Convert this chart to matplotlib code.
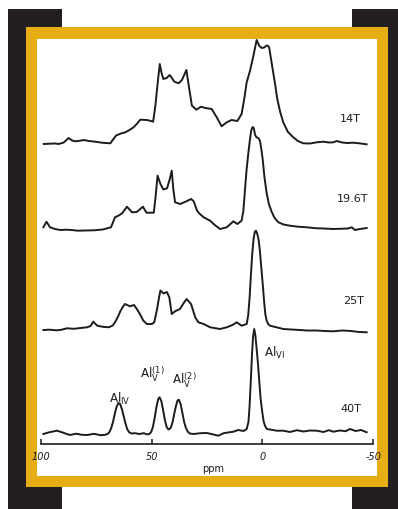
import matplotlib
matplotlib.use("Agg")
import matplotlib.pyplot as plt
from matplotlib.patches import Rectangle

# --- 27Al MAS NMR spectra at four field strengths (ppm, intensity) ---
ppm_14 = [98.6, 96, 93.5, 91.9, 89.6, 87.4, 85.8, 84.4, 82.5, 80.6, 78.3, 75.4, 72.0, 68.6,
          66.0, 63.8, 61.8, 60.0, 58.1, 56.5, 55.1, 52.1, 50.3, 49.3, 48.3, 47.2, 46.3, 45.5,
          44.7, 43.2, 41.8, 39.7, 37.8, 36.3, 34.3, 33.0, 31.8, 29.8, 27.7, 25.8, 22.9, 20.6,
          18.4, 16.1, 13.9, 11.3, 9.4, 8.2, 7.1, 5.6, 4.1, 2.6, 1.4, 0.3, -0.8, -1.9, -2.6,
          -3.1, -3.8, -4.6, -5.7, -6.7, -8.0, -9.4, -11.5, -13.9, -16.0, -18.4, -21.5,
          -24.5, -27.5, -30, -32.0, -33.5, -36, -38.0, -41, -44, -47.0]
int_14 = [0, 0.3, 0.5, 0, 1.5, 6, 3.5, 2.7, 3.2, 4, 3.0, 2.3, 1.2, 0.7,
          8.5, 10.5, 11.7, 14, 16.7, 20.5, 24.3, 24, 23, 22.3, 38, 62, 80, 71,
          65, 66, 69, 62.3, 60.7, 64, 74, 55, 38.3, 34.3, 37.3, 36, 35, 26.7,
          17.7, 21.7, 24, 23, 30, 45, 61.7, 73.3, 88, 104, 98, 96, 96.5, 98.5, 98,
          96, 86, 75, 60, 45, 32, 21.7, 12, 6.7, 3, 0.7, 0.5,
          1.7, 2.3, 1.5, 1.7, 3, 1.5, 1, 1.3, 0.6, -0.3]

ppm_196 = [98.8, 97.4, 95.8, 93.5, 91.2, 88.3, 85, 83.6, 80, 76, 72, 68.3, 66.5, 64.8, 63.3,
           61.1, 58.8, 56.7, 53.9, 52.3, 49.0, 48.2, 47.3, 46.0, 44.7, 43.0, 41.8, 40.9, 40.2,
           39.4, 37.1, 34.3, 32.2, 31.0, 29.5, 28.2, 26.5, 23.6, 21.5, 19.1, 16.1, 13.1, 11.3,
           9.4, 8.6, 7.9, 7.2, 6.4, 5.6, 5.0, 4.4, 3.9, 3.3, 2.6, 1.8, 1.1, 0.5, -0.1, -0.9,
           -1.9, -2.9, -4.2, -5.5, -7.2, -9.5, -12.4, -16, -20.0, -24, -27.5, -32.0,
           -36, -38.5, -40.3, -41.7, -44, -47.0]
int_196 = [1.7, 7.3, 1.7, 0, -1, -0.7, -1.2, -1.7, -1.5, -1.3, -0.5, 1.7, 11.7, 13.5, 15.7,
           22.3, 16.7, 17, 22.3, 16.3, 16.3, 32, 53.3, 45, 39.5, 40.7, 50, 58.3, 40,
           26.7, 25, 27.7, 30, 27.7, 18.3, 15, 11.7, 8.3, 4, 0, 1.7, 7.7, 5,
           8.3, 18, 38.3, 58, 75, 90, 99, 102, 101, 94, 91.5, 91, 88, 80, 70, 52,
           36, 25, 17, 11, 6.7, 4.5, 3.3, 2.3, 1.7, 0.8, 0.5, 0,
           0.3, 0.5, 1.7, -1, 0, 1]

ppm_25 = [98.8, 96, 93, 91.2, 88.1, 85, 82, 79.1, 77.5, 76.3, 74.5, 72, 69.3, 67.5, 66.5,
          65.2, 64.1, 63.0, 62.0, 59.7, 57.9, 56.5, 55.1, 53.7, 52.1, 49.9, 48.8, 47.5, 46.6,
          46.0, 44.6, 43.1, 42.0, 40.9, 39.4, 37.2, 35.5, 34.2, 32.2, 30.3, 28.9, 26.5, 23.6,
          19.1, 16.1, 13.5, 11.6, 9.4, 7.1, 6.4, 5.8, 5.2, 4.6, 4.0, 3.4, 2.9, 2.3, 1.7, 1.1,
          0.5, -0.1, -0.7, -1.3, -1.9, -2.6, -3.4, -6.4, -9.4, -13, -16.9, -20, -24.5,
          -28, -32.0, -36, -40, -43.5, -47.0]
int_25 = [0, 0.3, -0.3, 0, 1.7, 1.2, 2.0, 2.7, 4, 8.3, 4.3, 3.2, 2.7, 4.5, 7.7,
          13, 18.7, 23, 26, 23.7, 25, 20.5, 15.3, 9.3, 6, 6, 7.7, 21, 33,
          39.5, 36.5, 38, 32.7, 16, 18.7, 21, 27, 31, 26, 12.7, 7.7, 6, 2.7,
          1, 2.7, 5, 7.7, 4.3, 6, 15, 32, 55, 76, 91, 98.5, 99.3, 96, 90, 78,
          62, 47, 30, 16, 9.3, 6, 4.3, 2.7, 1, 0.5, 0, -0.5, -0.5,
          -1, -1.3, -0.5, -1, -2, -2.3]

ppm_40 = [98.8, 96.5, 94.5, 92.7, 90.5, 88.5, 86.8, 84, 81.5, 79, 76, 73, 71.0, 69.8, 69.0,
          68.2, 67.4, 66.6, 65.8, 65.0, 64.2, 63.4, 62.6, 61.8, 61.0, 60.2, 59.2, 57.5, 55.5,
          53.5, 52, 51.0, 50.2, 49.4, 48.6, 47.8, 47.0, 46.4, 45.6, 44.8, 44.0, 43.2, 42.4,
          41.6, 41.2, 40.5, 39.8, 39.0, 38.3, 37.7, 36.9, 36.1, 35.3, 34.5, 33.7, 32.8, 31.0,
          28, 25.0, 22.5, 19.9, 17.5, 15.5, 13.1, 10.9, 8.5, 7.1, 6.3, 5.8, 5.2, 4.7, 4.2,
          3.7, 3.2, 2.6, 2.0, 1.4, 0.8, 0.2, -0.5, -1.2, -2.0, -3.5, -6.4, -9.4, -12.5,
          -15.5, -18.5, -21.5, -24.5, -27.5, -30, -32.0, -35, -37.5, -39.5, -42, -44.5, -47.0]
int_40 = [0, 1.5, 2.5, 3.3, 1.8, 0.2, -1, 0.3, -0.8, -1, 0.2, -1.2, -0.8, 0, 2,
          6, 12, 20, 27, 31, 30, 25, 18, 11, 5, 2, 0.5, 0.8, 0,
          0.8, -0.4, 0, 2, 7, 16, 27, 35, 36.7, 33, 24, 14, 7, 4.5,
          5.5, 7, 12, 20, 28, 33.5, 34.3, 30, 21, 12, 6, 2.5, 0.5, 0,
          0.8, 1, -0.3, -1.7, 0.8, 1.5, 2.3, 4, 3, 5, 12, 28, 55, 80, 98,
          105, 99, 85, 70, 52, 35, 24, 13, 8, 5, 4.5, 3.3, 3.3, 2,
          3.8, 2.5, 3.5, 3.3, 2, 3.8, 2.3, 3.5, 2.8, 5, 3, 4, 1.7]

field_labels = ["14T", "19.6T", "25T", "40T"]
tick_values = [100, 50, 0, -50]
tick_labels = ["100", "50", "0", "-50"]

# vertical stacking of the traces
offsets = [300, 215, 114, 10]
label_pos = [(-35.0, 326), (-33.6, 246), (-36.3, 144), (-35.0, 36)]

W, H = 398, 510
fig = plt.figure(figsize=(W / 100, H / 100), dpi=100)
fig.patch.set_facecolor("white")


def frame_box(x0, y0, x1, y1, color):
    """Rectangle given in pixel coordinates measured from the top-left corner."""
    fig.patches.append(Rectangle((x0 / W, 1 - y1 / H), (x1 - x0) / W, (y1 - y0) / H,
                                 transform=fig.transFigure, facecolor=color,
                                 edgecolor="none", zorder=-10))


frame_box(8, 10, 62, 510, "#231f20")
frame_box(352, 10, 398, 510, "#231f20")
frame_box(26, 28, 388, 488, "#e6ad14")

ax = fig.add_axes([37 / W, 1 - 477 / H, 340 / W, 437 / H])
ax.set_zorder(5)
ax.set_facecolor("white")
ax.set_xlim(101.67, -51.67)
ax.set_ylim(-32, 405)

line_kw = dict(color="#1c1c1c", lw=1.4, solid_joinstyle="round")
series = [(ppm_14, int_14), (ppm_196, int_196), (ppm_25, int_25), (ppm_40, int_40)]
for (x, y), off, name, (lx, ly) in zip(series, offsets, field_labels, label_pos):
    ax.plot(x, [v + off for v in y], **line_kw)
    ax.text(lx, ly, name, ha="left", va="center", fontsize=8, color="#1c1c1c")

# site assignments on the 40T trace
ann_kw = dict(ha="left", va="baseline", fontsize=8.6, color="#1c1c1c")
ax.text(69.0, 42, r"Al$_{\rm IV}$", **ann_kw)
ax.text(55.4, 67, r"Al$_{\rm V}^{(1)}$", **ann_kw)
ax.text(41.0, 60, r"Al$_{\rm V}^{(2)}$", **ann_kw)
ax.text(-0.7, 88, r"Al$_{\rm VI}$", **ann_kw)

for side in ("left", "right", "top"):
    ax.spines[side].set_visible(False)
ax.spines["bottom"].set_position(("data", 0))
ax.spines["bottom"].set_bounds(-50, 100)
ax.spines["bottom"].set_linewidth(1.2)
ax.spines["bottom"].set_color("#1c1c1c")
ax.set_yticks([])
ax.set_xticks(tick_values)
ax.set_xticklabels(tick_labels)
ax.tick_params(axis="x", direction="in", length=3.5, width=1.1, pad=5.2,
               labelsize=7, colors="#1c1c1c")
for lbl in ax.get_xticklabels():
    lbl.set_style("italic")
ax.text(22.3, -24, "ppm", ha="center", va="center", fontsize=7, color="#1c1c1c")

fig.savefig("out.png", dpi=100, facecolor="white")
